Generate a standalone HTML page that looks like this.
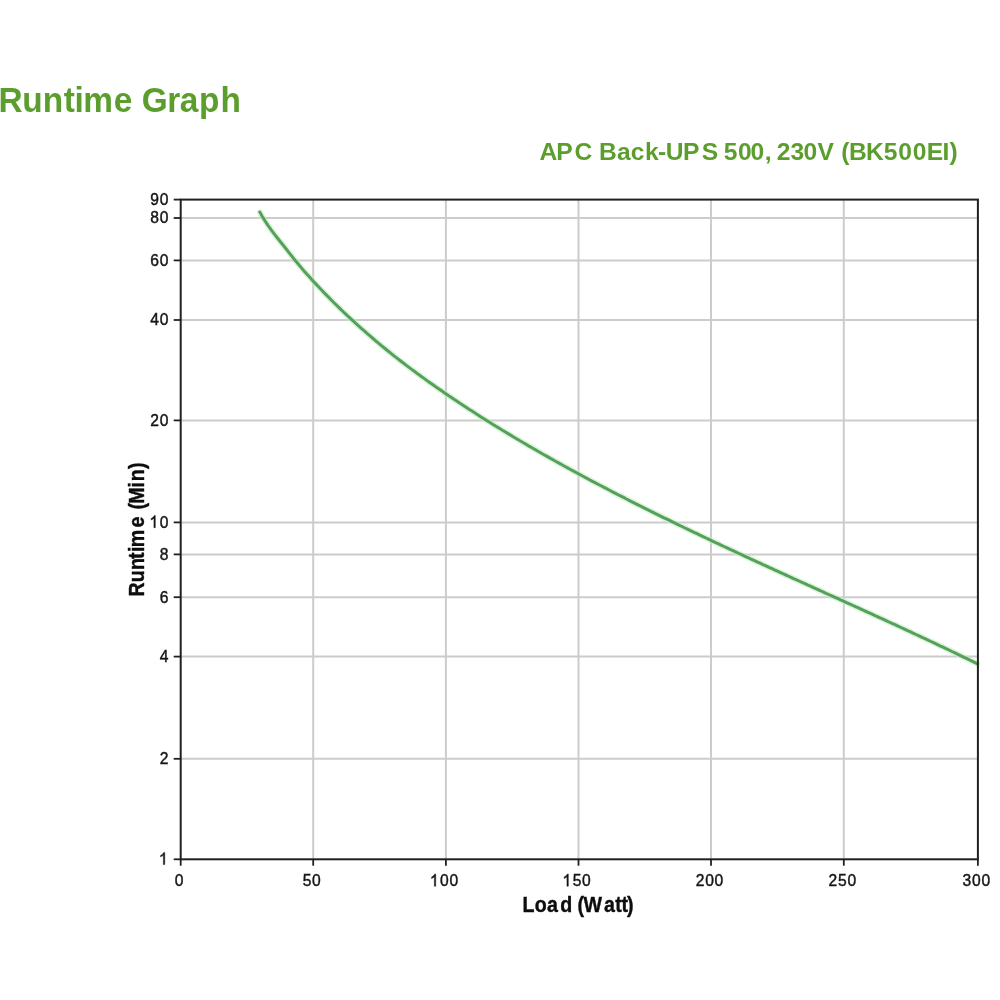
<!DOCTYPE html>
<html><head><meta charset="utf-8"><style>
html,body{margin:0;padding:0;background:#fff;}
body{width:1000px;height:1000px;overflow:hidden;position:relative;font-family:"Liberation Sans",sans-serif;}
svg{position:absolute;left:0;top:0;will-change:transform;}
.tk{font-family:"Liberation Sans",sans-serif;font-size:17px;fill:#151515;stroke:#151515;stroke-width:0.45px;}
.ax{font-family:"Liberation Sans",sans-serif;font-size:21.8px;font-weight:bold;fill:#0d0d0d;stroke:#0d0d0d;stroke-width:0.4px;}
.one{fill:#151515;stroke:#151515;stroke-width:0.45px;vector-effect:non-scaling-stroke;}
.t1{font-family:"Liberation Sans",sans-serif;font-size:34.4px;font-weight:bold;fill:#5c9e2e;}
.t2{font-family:"Liberation Sans",sans-serif;font-size:24.6px;font-weight:bold;fill:#5c9e2e;}
</style></head><body>
<svg width="1000" height="1000" viewBox="0 0 1000 1000">
<text transform="translate(0.2,111.8) scale(0.971,1)" x="-1.8 22.66 43.87 65.34 76.43 85.58 116.92 136.1 145.7 172.18 184.89 204.64 226.84" class="t1">Runtime Graph</text>
<text x="539.4 556.35 574.56 592.27 599.05 616.92 630.74 644.96 658.05 665.69 683.05 701.86 717.62 723.84 738.07 750.39 764.67 770.7 776.73 790.57 803.54 817.53 834.22 841.36 848.95 866.12 883.82 898.3 912.67 926.85 942.6 949.6" y="160.1" class="t2">APC Back-UPS 500, 230V (BK500EI)</text>
<line x1="180.7" y1="758.8" x2="977.9" y2="758.8" stroke="#cccccc" stroke-width="2"/>
<line x1="180.7" y1="656.6" x2="977.9" y2="656.6" stroke="#cccccc" stroke-width="2"/>
<line x1="180.7" y1="597.2" x2="977.9" y2="597.2" stroke="#cccccc" stroke-width="2"/>
<line x1="180.7" y1="554.4" x2="977.9" y2="554.4" stroke="#cccccc" stroke-width="2"/>
<line x1="180.7" y1="522.4" x2="977.9" y2="522.4" stroke="#cccccc" stroke-width="2"/>
<line x1="180.7" y1="420.4" x2="977.9" y2="420.4" stroke="#cccccc" stroke-width="2"/>
<line x1="180.7" y1="320" x2="977.9" y2="320" stroke="#cccccc" stroke-width="2"/>
<line x1="180.7" y1="260.4" x2="977.9" y2="260.4" stroke="#cccccc" stroke-width="2"/>
<line x1="180.7" y1="218" x2="977.9" y2="218" stroke="#cccccc" stroke-width="2"/>
<line x1="313.2" y1="199.6" x2="313.2" y2="859.3" stroke="#cccccc" stroke-width="2"/>
<line x1="445.9" y1="199.6" x2="445.9" y2="859.3" stroke="#cccccc" stroke-width="2"/>
<line x1="578.5" y1="199.6" x2="578.5" y2="859.3" stroke="#cccccc" stroke-width="2"/>
<line x1="711.0" y1="199.6" x2="711.0" y2="859.3" stroke="#cccccc" stroke-width="2"/>
<line x1="843.8" y1="199.6" x2="843.8" y2="859.3" stroke="#cccccc" stroke-width="2"/>
<polyline points="259.8,212.1 262.0,216.0 265.0,220.9 268.0,225.4 271.0,229.6 274.0,233.6 277.0,237.5 280.0,241.3 283.0,245.0 286.0,248.8 289.0,252.6 292.0,256.4 295.0,260.2 298.0,263.8 301.0,267.4 304.0,270.9 307.0,274.3 310.0,277.6 313.0,280.9 316.0,284.1 319.0,287.3 322.0,290.5 325.0,293.6 328.0,296.6 331.0,299.7 334.0,302.7 337.0,305.6 340.0,308.6 343.0,311.5 346.0,314.3 349.0,317.1 352.0,319.9 355.0,322.7 358.0,325.4 361.0,328.1 364.0,330.7 367.0,333.4 370.0,335.9 373.0,338.5 376.0,341.1 379.0,343.6 382.0,346.1 385.0,348.5 388.0,351.0 391.0,353.4 394.0,355.8 397.0,358.1 400.0,360.5 403.0,362.8 406.0,365.1 409.0,367.4 412.0,369.6 415.0,371.8 418.0,374.1 421.0,376.2 424.0,378.4 427.0,380.6 430.0,382.7 433.0,384.8 436.0,386.9 439.0,389.0 442.0,391.1 445.0,393.2 448.0,395.2 451.0,397.2 454.0,399.3 457.0,401.3 460.0,403.3 463.0,405.2 466.0,407.2 469.0,409.2 472.0,411.1 475.0,413.0 478.0,415.0 481.0,416.9 484.0,418.8 487.0,420.7 490.0,422.5 493.0,424.4 496.0,426.3 499.0,428.1 502.0,430.0 505.0,431.8 508.0,433.6 511.0,435.4 514.0,437.2 517.0,439.0 520.0,440.8 523.0,442.5 526.0,444.3 529.0,446.1 532.0,447.8 535.0,449.5 538.0,451.3 541.0,453.0 544.0,454.7 547.0,456.4 550.0,458.1 553.0,459.8 556.0,461.5 559.0,463.1 562.0,464.8 565.0,466.5 568.0,468.1 571.0,469.7 574.0,471.4 577.0,473.0 580.0,474.6 583.0,476.2 586.0,477.9 589.0,479.5 592.0,481.1 595.0,482.6 598.0,484.2 601.0,485.8 604.0,487.4 607.0,488.9 610.0,490.5 613.0,492.1 616.0,493.6 619.0,495.2 622.0,496.7 625.0,498.2 628.0,499.8 631.0,501.3 634.0,502.8 637.0,504.3 640.0,505.8 643.0,507.4 646.0,508.9 649.0,510.3 652.0,511.8 655.0,513.3 658.0,514.8 661.0,516.3 664.0,517.8 667.0,519.2 670.0,520.7 673.0,522.2 676.0,523.6 679.0,525.1 682.0,526.5 685.0,528.0 688.0,529.4 691.0,530.9 694.0,532.3 697.0,533.7 700.0,535.2 703.0,536.6 706.0,538.0 709.0,539.4 712.0,540.9 715.0,542.3 718.0,543.7 721.0,545.1 724.0,546.5 727.0,547.9 730.0,549.3 733.0,550.7 736.0,552.1 739.0,553.5 742.0,554.9 745.0,556.3 748.0,557.7 751.0,559.1 754.0,560.4 757.0,561.8 760.0,563.2 763.0,564.6 766.0,565.9 769.0,567.3 772.0,568.7 775.0,570.1 778.0,571.4 781.0,572.8 784.0,574.2 787.0,575.5 790.0,576.9 793.0,578.3 796.0,579.6 799.0,581.0 802.0,582.4 805.0,583.7 808.0,585.1 811.0,586.4 814.0,587.8 817.0,589.2 820.0,590.5 823.0,591.9 826.0,593.3 829.0,594.6 832.0,596.0 835.0,597.3 838.0,598.7 841.0,600.1 844.0,601.4 847.0,602.8 850.0,604.1 853.0,605.5 856.0,606.9 859.0,608.2 862.0,609.6 865.0,611.0 868.0,612.3 871.0,613.7 874.0,615.1 877.0,616.5 880.0,617.8 883.0,619.2 886.0,620.6 889.0,622.0 892.0,623.4 895.0,624.7 898.0,626.1 901.0,627.5 904.0,628.9 907.0,630.3 910.0,631.7 913.0,633.1 916.0,634.5 919.0,635.9 922.0,637.3 925.0,638.7 928.0,640.1 931.0,641.5 934.0,642.9 937.0,644.3 940.0,645.8 943.0,647.2 946.0,648.6 949.0,650.0 952.0,651.5 955.0,652.9 958.0,654.4 961.0,655.8 964.0,657.3 967.0,658.7 970.0,660.2 973.0,661.6 977.0,663.6" fill="none" stroke="#c4efc4" stroke-width="6" stroke-opacity="0.6" stroke-linejoin="round" stroke-linecap="round"/>
<polyline points="259.8,212.1 262.0,216.0 265.0,220.9 268.0,225.4 271.0,229.6 274.0,233.6 277.0,237.5 280.0,241.3 283.0,245.0 286.0,248.8 289.0,252.6 292.0,256.4 295.0,260.2 298.0,263.8 301.0,267.4 304.0,270.9 307.0,274.3 310.0,277.6 313.0,280.9 316.0,284.1 319.0,287.3 322.0,290.5 325.0,293.6 328.0,296.6 331.0,299.7 334.0,302.7 337.0,305.6 340.0,308.6 343.0,311.5 346.0,314.3 349.0,317.1 352.0,319.9 355.0,322.7 358.0,325.4 361.0,328.1 364.0,330.7 367.0,333.4 370.0,335.9 373.0,338.5 376.0,341.1 379.0,343.6 382.0,346.1 385.0,348.5 388.0,351.0 391.0,353.4 394.0,355.8 397.0,358.1 400.0,360.5 403.0,362.8 406.0,365.1 409.0,367.4 412.0,369.6 415.0,371.8 418.0,374.1 421.0,376.2 424.0,378.4 427.0,380.6 430.0,382.7 433.0,384.8 436.0,386.9 439.0,389.0 442.0,391.1 445.0,393.2 448.0,395.2 451.0,397.2 454.0,399.3 457.0,401.3 460.0,403.3 463.0,405.2 466.0,407.2 469.0,409.2 472.0,411.1 475.0,413.0 478.0,415.0 481.0,416.9 484.0,418.8 487.0,420.7 490.0,422.5 493.0,424.4 496.0,426.3 499.0,428.1 502.0,430.0 505.0,431.8 508.0,433.6 511.0,435.4 514.0,437.2 517.0,439.0 520.0,440.8 523.0,442.5 526.0,444.3 529.0,446.1 532.0,447.8 535.0,449.5 538.0,451.3 541.0,453.0 544.0,454.7 547.0,456.4 550.0,458.1 553.0,459.8 556.0,461.5 559.0,463.1 562.0,464.8 565.0,466.5 568.0,468.1 571.0,469.7 574.0,471.4 577.0,473.0 580.0,474.6 583.0,476.2 586.0,477.9 589.0,479.5 592.0,481.1 595.0,482.6 598.0,484.2 601.0,485.8 604.0,487.4 607.0,488.9 610.0,490.5 613.0,492.1 616.0,493.6 619.0,495.2 622.0,496.7 625.0,498.2 628.0,499.8 631.0,501.3 634.0,502.8 637.0,504.3 640.0,505.8 643.0,507.4 646.0,508.9 649.0,510.3 652.0,511.8 655.0,513.3 658.0,514.8 661.0,516.3 664.0,517.8 667.0,519.2 670.0,520.7 673.0,522.2 676.0,523.6 679.0,525.1 682.0,526.5 685.0,528.0 688.0,529.4 691.0,530.9 694.0,532.3 697.0,533.7 700.0,535.2 703.0,536.6 706.0,538.0 709.0,539.4 712.0,540.9 715.0,542.3 718.0,543.7 721.0,545.1 724.0,546.5 727.0,547.9 730.0,549.3 733.0,550.7 736.0,552.1 739.0,553.5 742.0,554.9 745.0,556.3 748.0,557.7 751.0,559.1 754.0,560.4 757.0,561.8 760.0,563.2 763.0,564.6 766.0,565.9 769.0,567.3 772.0,568.7 775.0,570.1 778.0,571.4 781.0,572.8 784.0,574.2 787.0,575.5 790.0,576.9 793.0,578.3 796.0,579.6 799.0,581.0 802.0,582.4 805.0,583.7 808.0,585.1 811.0,586.4 814.0,587.8 817.0,589.2 820.0,590.5 823.0,591.9 826.0,593.3 829.0,594.6 832.0,596.0 835.0,597.3 838.0,598.7 841.0,600.1 844.0,601.4 847.0,602.8 850.0,604.1 853.0,605.5 856.0,606.9 859.0,608.2 862.0,609.6 865.0,611.0 868.0,612.3 871.0,613.7 874.0,615.1 877.0,616.5 880.0,617.8 883.0,619.2 886.0,620.6 889.0,622.0 892.0,623.4 895.0,624.7 898.0,626.1 901.0,627.5 904.0,628.9 907.0,630.3 910.0,631.7 913.0,633.1 916.0,634.5 919.0,635.9 922.0,637.3 925.0,638.7 928.0,640.1 931.0,641.5 934.0,642.9 937.0,644.3 940.0,645.8 943.0,647.2 946.0,648.6 949.0,650.0 952.0,651.5 955.0,652.9 958.0,654.4 961.0,655.8 964.0,657.3 967.0,658.7 970.0,660.2 973.0,661.6 977.0,663.6" fill="none" stroke="#56a05c" stroke-width="3" stroke-linejoin="round" stroke-linecap="round"/>
<rect x="180.7" y="199.6" width="797.2" height="659.6999999999999" fill="none" stroke="#202020" stroke-width="2"/>
<line x1="173.7" y1="859.3" x2="180.7" y2="859.3" stroke="#202020" stroke-width="1.8"/>
<path class="one" transform="translate(163.27,864.60) scale(0.007637,-0.008301) translate(-569.5,0)" d="M763 0L583 0L583 1147Q518 1085 412 1023Q306 961 222 930L222 1104Q373 1175 486 1276Q599 1377 646 1472L763 1472Z"/>
<line x1="173.7" y1="758.8" x2="180.7" y2="758.8" stroke="#202020" stroke-width="1.8"/>
<text transform="translate(163.97,764.10) scale(0.92,1)" x="-4.727" y="0" class="tk">2</text>
<line x1="173.7" y1="656.6" x2="180.7" y2="656.6" stroke="#202020" stroke-width="1.8"/>
<text transform="translate(163.97,661.90) scale(0.92,1)" x="-4.727" y="0" class="tk">4</text>
<line x1="173.7" y1="597.2" x2="180.7" y2="597.2" stroke="#202020" stroke-width="1.8"/>
<text transform="translate(163.97,602.50) scale(0.92,1)" x="-4.727" y="0" class="tk">6</text>
<line x1="173.7" y1="554.4" x2="180.7" y2="554.4" stroke="#202020" stroke-width="1.8"/>
<text transform="translate(163.97,559.70) scale(0.92,1)" x="-4.727" y="0" class="tk">8</text>
<line x1="173.7" y1="522.4" x2="180.7" y2="522.4" stroke="#202020" stroke-width="1.8"/>
<path class="one" transform="translate(153.82,527.70) scale(0.007637,-0.008301) translate(-569.5,0)" d="M763 0L583 0L583 1147Q518 1085 412 1023Q306 961 222 930L222 1104Q373 1175 486 1276Q599 1377 646 1472L763 1472Z"/><text transform="translate(163.97,527.70) scale(0.92,1)" x="-4.727" y="0" class="tk">0</text>
<line x1="173.7" y1="420.4" x2="180.7" y2="420.4" stroke="#202020" stroke-width="1.8"/>
<text transform="translate(154.52,425.70) scale(0.92,1)" x="-4.727" y="0" class="tk">2</text><text transform="translate(163.97,425.70) scale(0.92,1)" x="-4.727" y="0" class="tk">0</text>
<line x1="173.7" y1="320" x2="180.7" y2="320" stroke="#202020" stroke-width="1.8"/>
<text transform="translate(154.52,325.30) scale(0.92,1)" x="-4.727" y="0" class="tk">4</text><text transform="translate(163.97,325.30) scale(0.92,1)" x="-4.727" y="0" class="tk">0</text>
<line x1="173.7" y1="260.4" x2="180.7" y2="260.4" stroke="#202020" stroke-width="1.8"/>
<text transform="translate(154.52,265.70) scale(0.92,1)" x="-4.727" y="0" class="tk">6</text><text transform="translate(163.97,265.70) scale(0.92,1)" x="-4.727" y="0" class="tk">0</text>
<line x1="173.7" y1="218" x2="180.7" y2="218" stroke="#202020" stroke-width="1.8"/>
<text transform="translate(154.52,223.30) scale(0.92,1)" x="-4.727" y="0" class="tk">8</text><text transform="translate(163.97,223.30) scale(0.92,1)" x="-4.727" y="0" class="tk">0</text>
<line x1="173.7" y1="199.6" x2="180.7" y2="199.6" stroke="#202020" stroke-width="1.8"/>
<text transform="translate(154.52,204.90) scale(0.92,1)" x="-4.727" y="0" class="tk">9</text><text transform="translate(163.97,204.90) scale(0.92,1)" x="-4.727" y="0" class="tk">0</text>
<line x1="180.7" y1="859.3" x2="180.7" y2="865.7" stroke="#202020" stroke-width="1.8"/>
<text transform="translate(179.20,886.20) scale(0.92,1)" x="-4.727" y="0" class="tk">0</text>
<line x1="313.2" y1="859.3" x2="313.2" y2="865.7" stroke="#202020" stroke-width="1.8"/>
<text transform="translate(306.97,886.20) scale(0.92,1)" x="-4.727" y="0" class="tk">5</text><text transform="translate(316.43,886.20) scale(0.92,1)" x="-4.727" y="0" class="tk">0</text>
<line x1="445.9" y1="859.3" x2="445.9" y2="865.7" stroke="#202020" stroke-width="1.8"/>
<path class="one" transform="translate(434.25,886.20) scale(0.007637,-0.008301) translate(-569.5,0)" d="M763 0L583 0L583 1147Q518 1085 412 1023Q306 961 222 930L222 1104Q373 1175 486 1276Q599 1377 646 1472L763 1472Z"/><text transform="translate(444.40,886.20) scale(0.92,1)" x="-4.727" y="0" class="tk">0</text><text transform="translate(453.85,886.20) scale(0.92,1)" x="-4.727" y="0" class="tk">0</text>
<line x1="578.5" y1="859.3" x2="578.5" y2="865.7" stroke="#202020" stroke-width="1.8"/>
<path class="one" transform="translate(566.85,886.20) scale(0.007637,-0.008301) translate(-569.5,0)" d="M763 0L583 0L583 1147Q518 1085 412 1023Q306 961 222 930L222 1104Q373 1175 486 1276Q599 1377 646 1472L763 1472Z"/><text transform="translate(577.00,886.20) scale(0.92,1)" x="-4.727" y="0" class="tk">5</text><text transform="translate(586.45,886.20) scale(0.92,1)" x="-4.727" y="0" class="tk">0</text>
<line x1="711.0" y1="859.3" x2="711.0" y2="865.7" stroke="#202020" stroke-width="1.8"/>
<text transform="translate(700.05,886.20) scale(0.92,1)" x="-4.727" y="0" class="tk">2</text><text transform="translate(709.50,886.20) scale(0.92,1)" x="-4.727" y="0" class="tk">0</text><text transform="translate(718.95,886.20) scale(0.92,1)" x="-4.727" y="0" class="tk">0</text>
<line x1="843.8" y1="859.3" x2="843.8" y2="865.7" stroke="#202020" stroke-width="1.8"/>
<text transform="translate(832.85,886.20) scale(0.92,1)" x="-4.727" y="0" class="tk">2</text><text transform="translate(842.30,886.20) scale(0.92,1)" x="-4.727" y="0" class="tk">5</text><text transform="translate(851.75,886.20) scale(0.92,1)" x="-4.727" y="0" class="tk">0</text>
<line x1="977.9" y1="859.3" x2="977.9" y2="865.7" stroke="#202020" stroke-width="1.8"/>
<text transform="translate(966.95,886.20) scale(0.92,1)" x="-4.727" y="0" class="tk">3</text><text transform="translate(976.40,886.20) scale(0.92,1)" x="-4.727" y="0" class="tk">0</text><text transform="translate(985.85,886.20) scale(0.92,1)" x="-4.727" y="0" class="tk">0</text>
<text transform="translate(578,911.8) scale(0.9,1)" x="-61.74 -48.09 -34.44 -19.7 -6.46 -0.47 6.02 28.88 41.35 48.4 54.45" class="ax">Load (Watt)</text>
<text transform="translate(144.2,529.3) rotate(-90) scale(0.9,1)" x="-74.77 -58.81 -45.35 -33.02 -25.37 -19.84 2.11 15.14 22.12 28.44 46.56 53.36 66.91" class="ax">Runtime (Min)</text>
</svg>
</body></html>
